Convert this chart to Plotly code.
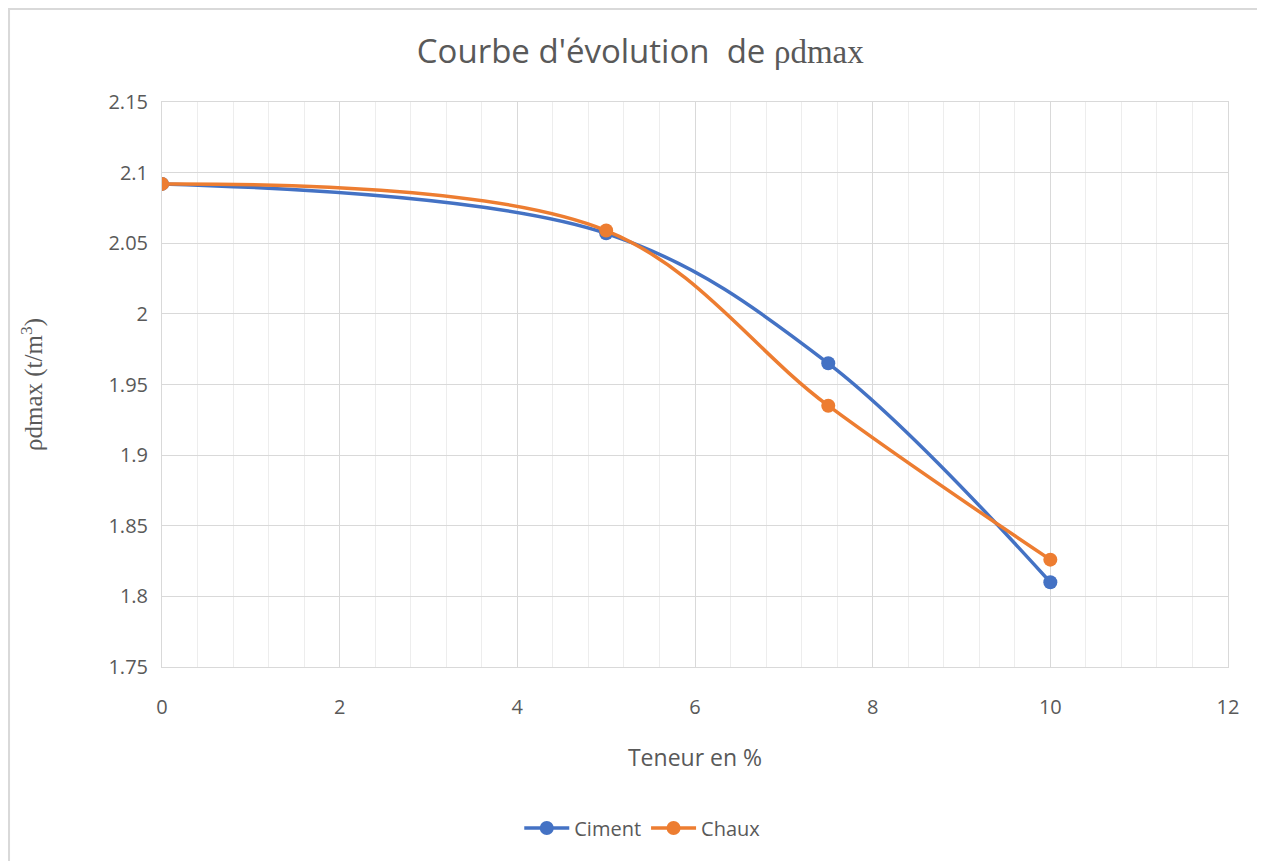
import plotly.graph_objects as go

teneur = [0, 5, 7.5, 10]
ciment = [2.092, 2.057, 1.965, 1.810]
chaux = [2.092, 2.059, 1.935, 1.826]

blue = '#4472C4'
orange = '#ED7D31'
grey_text = '#595959'
serif = 'Liberation Serif, DejaVu Serif, serif'

fig = go.Figure()
fig.add_trace(go.Scatter(x=teneur, y=ciment, name='Ciment', mode='lines+markers',
                         line=dict(color=blue, width=3.5, shape='spline', smoothing=1),
                         marker=dict(size=14, color=blue)))
fig.add_trace(go.Scatter(x=teneur, y=chaux, name='Chaux', mode='lines+markers',
                         line=dict(color=orange, width=3.5, shape='spline', smoothing=1),
                         marker=dict(size=14, color=orange)))

# the page body adds an 8px margin, so the figure is a bit smaller than the window
fig.update_layout(
    width=1257, height=853,
    paper_bgcolor='white', plot_bgcolor='white',
    margin=dict(l=154, r=37, t=94, b=194),
    font=dict(family='Open Sans, Liberation Sans, sans-serif', color=grey_text, size=20),
    title=dict(text="Courbe d'évolution  de <span style='font-family:" + serif + "'>ρdmax</span>",
               x=0.503, xanchor='center', y=0.949, yanchor='middle',
               font=dict(size=33, color=grey_text)),
    legend=dict(orientation='h', x=0.451, xanchor='center', y=-0.285, yanchor='middle',
                font=dict(size=20, color=grey_text), itemwidth=45),
    showlegend=True,
)

fig.update_xaxes(range=[0, 12], dtick=2, showgrid=True, gridcolor='#d9d9d9', gridwidth=1,
                 minor=dict(dtick=0.4, showgrid=True, gridcolor='#ededed', gridwidth=1),
                 showline=True, linecolor='#d9d9d9', linewidth=1, mirror=True,
                 zeroline=False, ticks='', ticklabelstandoff=22,
                 tickfont=dict(size=20, color=grey_text),
                 title=dict(text='Teneur en %', standoff=30, font=dict(size=23, color=grey_text)))
fig.update_yaxes(range=[1.75, 2.15], dtick=0.05, showgrid=True, gridcolor='#d9d9d9', gridwidth=1,
                 showline=True, linecolor='#d9d9d9', linewidth=1, mirror=True,
                 zeroline=False, ticks='', ticklabelstandoff=9,
                 tickfont=dict(size=20, color=grey_text),
                 title=dict(text='ρdmax (t/m<sup>3</sup>)', standoff=58,
                            font=dict(size=25, color=grey_text, family=serif)))

# outer chart border
fig.add_shape(type='rect', xref='paper', yref='paper', x0=-0.1435, x1=1.05, y0=-0.5, y1=1.1646,
              line=dict(color='#d9d9d9', width=2), layer='below')

fig.write_html("out.html")
